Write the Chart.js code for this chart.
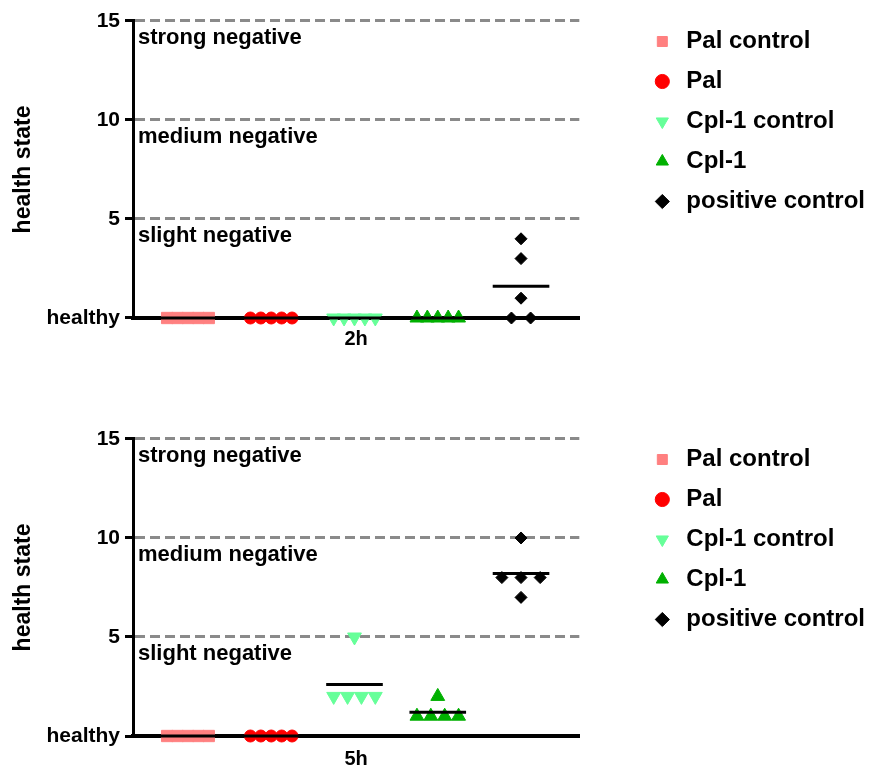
<!DOCTYPE html>
<html>
<head>
<meta charset="utf-8">
<script src="https://cdn.jsdelivr.net/npm/chart.js@4/dist/chart.umd.min.js"></script>
<style>
  html, body { margin: 0; padding: 0; background: #fff; overflow: hidden; }
  .panel { position: relative; width: 875px; }
  #p2h { height: 418px; }
  #p5h { height: 351px; }
</style>
</head>
<body>
<div class="panel" id="p2h"><canvas id="chart2h"></canvas></div>
<div class="panel" id="p5h"><canvas id="chart5h"></canvas></div>
<script>
// Gruppen und Werte (health score je Tier)
const categories = ['Pal control', 'Pal', 'Cpl-1 control', 'Cpl-1', 'positive control'];
const pointStyles = ['rect', 'circle', 'triangle', 'triangle', 'rectRot'];
const pointRotations = [0, 0, 180, 0, 0];
const pointSizes = [8, 6, 8, 8, 6];
const colors = ['#ff8080', '#ff0000', '#66ff99', '#00b000', '#000000'];

const yTickValues = [0, 5, 10, 15];
const yTickLabels = ['healthy', '5', '10', '15'];
const bandValues = [15, 10, 5];
const bandLabels = ['strong negative', 'medium negative', 'slight negative'];

// 2h
const palControl2h = [0, 0, 0, 0, 0];
const pal2h = [0, 0, 0, 0, 0];
const cplControl2h = [0, 0, 0, 0, 0];
const cpl2h = [0, 0, 0, 0, 0];
const positive2h = [0, 0, 1, 3, 4];

// 5h
const palControl5h = [0, 0, 0, 0, 0];
const pal5h = [0, 0, 0, 0, 0];
const cplControl5h = [2, 2, 2, 2, 5];
const cpl5h = [1, 1, 1, 1, 2];
const positive5h = [7, 8, 8, 8, 10];

const FONT = '"Liberation Sans", Arial, sans-serif';

// Punkte mit gleichem Wert nebeneinander legen (wie Prism scatter)
function spreadPoints(values, catIndex) {
  const groups = {};
  values.forEach(v => { groups[v] = (groups[v] || 0) + 1; });
  const out = [];
  Object.keys(groups).forEach(k => {
    const n = groups[k];
    const step = n > 1 ? Math.min(0.23, 0.5 / (n - 1)) : 0;
    for (let j = 0; j < n; j++) {
      out.push({ x: catIndex + (j - (n - 1) / 2) * step, y: Number(k) });
    }
  });
  return out;
}

function mean(values) {
  return values.reduce((a, b) => a + b, 0) / values.length;
}

// Beschriftung der Bereiche (strong/medium/slight negative)
const bandLabelPlugin = {
  id: 'bandLabels',
  afterDatasetsDraw(chart) {
    const ctx = chart.ctx;
    const y = chart.scales.y;
    ctx.save();
    ctx.font = 'bold 22px ' + FONT;
    ctx.fillStyle = '#000';
    ctx.textBaseline = 'middle';
    ctx.textAlign = 'left';
    bandValues.forEach((v, i) => {
      ctx.fillText(bandLabels[i], chart.chartArea.left + 5, y.getPixelForValue(v) + 16.5);
    });
    ctx.restore();
  }
};

function makeChart(canvasId, seriesList, xTitle, canvasHeight, titlePad) {
  const datasets = seriesList.map((vals, i) => ({
    label: categories[i],
    data: spreadPoints(vals, i),
    backgroundColor: colors[i],
    borderColor: colors[i],
    pointStyle: pointStyles[i],
    pointRotation: pointRotations[i],
    pointRadius: pointSizes[i],
    pointHoverRadius: pointSizes[i],
    pointBorderWidth: 1,
    borderWidth: 0,
    clip: false,
    order: 2
  }));
  // Mittelwert-Striche
  seriesList.forEach((vals, i) => {
    const m = mean(vals);
    datasets.push({
      label: 'mean',
      data: [{ x: i - 0.34, y: m }, { x: i + 0.34, y: m }],
      showLine: true,
      borderColor: '#000',
      backgroundColor: '#000',
      borderWidth: 3,
      pointRadius: 0,
      clip: false,
      order: 1
    });
  });

  return new Chart(document.getElementById(canvasId), {
    type: 'scatter',
    data: { datasets },
    plugins: [bandLabelPlugin],
    options: {
      responsive: true,
      maintainAspectRatio: false,
      animation: false,
      layout: { padding: { top: 13.5, right: 0, bottom: 0, left: 0 } },
      plugins: {
        tooltip: { enabled: false },
        legend: {
          position: 'right',
          align: 'start',
          maxWidth: 260,
          labels: {
            filter: item => item.datasetIndex < categories.length,
            usePointStyle: true,
            boxWidth: 24,
            boxHeight: 10,
            padding: 16,
            color: '#000',
            font: { family: FONT, size: 24, weight: 'bold' }
          }
        }
      },
      scales: {
        x: {
          type: 'linear',
          min: -0.66,
          max: 4.7,
          ticks: { display: false },
          grid: { display: false },
          border: { display: true, color: '#000', width: 4 },
          title: {
            display: true,
            text: xTitle,
            color: '#000',
            font: { family: FONT, size: 20, weight: 'bold', lineHeight: 1 },
            padding: { top: 0, bottom: titlePad }
          },
          afterFit: s => { s.height = canvasHeight - 318; }
        },
        y: {
          type: 'linear',
          min: 0,
          max: 15,
          afterBuildTicks: s => { s.ticks = yTickValues.map(v => ({ value: v })); },
          ticks: {
            color: '#000',
            padding: 5,
            font: { family: FONT, size: 21, weight: 'bold', lineHeight: 1.52 },
            callback: v => yTickLabels[yTickValues.indexOf(v)]
          },
          grid: {
            color: c => (c.tick && c.tick.value === 0) ? 'rgba(0,0,0,0)' : '#8a8a8a',
            lineWidth: 3,
            drawTicks: true,
            tickLength: 8,
            tickColor: '#000',
            tickWidth: 3,
            tickBorderDash: []
          },
          border: { display: true, color: '#000', width: 3, dash: [10, 5] },
          title: {
            display: true,
            text: 'health state',
            color: '#000',
            font: { family: FONT, size: 23, weight: 'bold' },
            padding: { top: 10, bottom: 0 }
          },
          afterFit: s => { s.width = 133; }
        },
        yR: {
          type: 'linear',
          position: 'right',
          display: true,
          ticks: { display: false },
          grid: { display: false },
          border: { display: false },
          afterFit: s => { s.width = 55; }
        }
      }
    }
  });
}

makeChart('chart2h', [palControl2h, pal2h, cplControl2h, cpl2h, positive2h], '2h', 418, 69);
makeChart('chart5h', [palControl5h, pal5h, cplControl5h, cpl5h, positive5h], '5h', 351, 0);
</script>
</body>
</html>
